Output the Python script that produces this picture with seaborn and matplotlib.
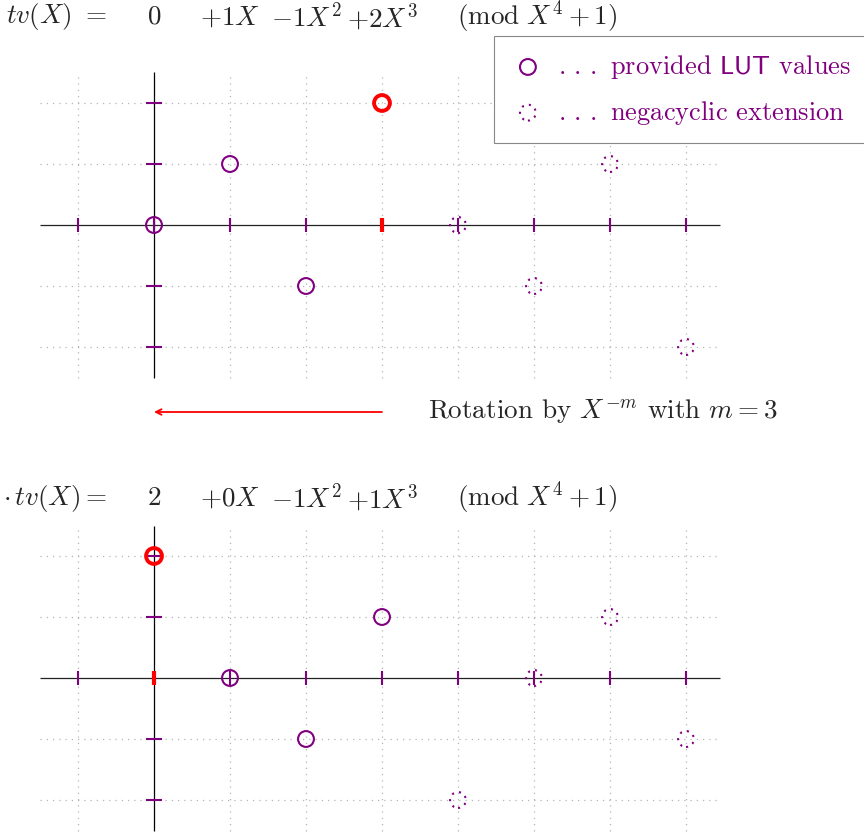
import matplotlib.pyplot as plt
import seaborn as sns

sns.set_style("white")
plt.rcParams['mathtext.fontset'] = 'cm'
plt.rcParams['font.family'] = 'serif'
plt.rcParams['font.serif'] = ['cmr10', 'DejaVu Serif']

PURPLE = "#800080"
RED = "#ff0000"
FS = 19.5

# polynomial data: coefficients of tv(X) and after rotation by X^-m
m = 3
powers = [0, 1, 2, 3]
ext_powers = [4, 5, 6, 7]
top_coeffs = [0, 1, -1, 2]
top_ext = [0, -1, 1, -2]
bot_coeffs = [2, 0, -1, 1]
bot_ext = [-2, 0, 1, -1]
top_terms = ["$0$", "$+1X$", "$-1X^2$", "$+2X^3$"]
bot_terms = ["$2$", "$+0X$", "$-1X^2$", "$+1X^3$"]
x_ticks = [-1, 0, 1, 2, 3, 4, 5, 6, 7]
y_ticks = [-2, -1, 1, 2]
grid_x = [-1, 1, 2, 3, 4, 5, 6, 7]
legend_labels = [r"$.\,.\,.$ provided $\mathsf{LUT}$ values$\quad$",
                 r"$.\,.\,.$ negacyclic extension"]

fig = plt.figure(figsize=(8.64, 8.34), dpi=100)
# each panel: x=0 at 154px, 76px per unit; y=0 at 225 / 678px, 61px per unit
xlim = (-154 / 76, (864 - 154) / 76)
ax_top = fig.add_axes([0, 1 - 450 / 834, 1, 450 / 834])
ax_bot = fig.add_axes([0, 0, 1, 384 / 834])


def draw_panel(ax, coeffs, ext, red_pos, terms, lhs, ylim, text_y, labels):
    ax.set_xlim(*xlim)
    ax.set_ylim(*ylim)
    ax.axis("off")
    # grid
    ax.hlines(y_ticks, -1.5, 7.45, colors="#b5b5b5", lw=0.9, linestyles=(0, (1, 4)), zorder=1)
    ax.vlines(grid_x, -2.5, 2.5, colors="#b5b5b5", lw=0.9, linestyles=(0, (1, 4)), zorder=1)
    # axes
    ax.hlines(0, -1.5, 7.45, colors="#222222", lw=0.9, zorder=2)
    ax.vlines(0, -2.5, 2.5, colors="black", lw=0.9, zorder=2)
    # ticks
    xt = [v for v in x_ticks if v != red_pos]
    ax.vlines(xt, -0.12, 0.12, colors=PURPLE, lw=1.5, zorder=3)
    ax.vlines(red_pos, -0.12, 0.12, colors=RED, lw=3, zorder=3)
    ax.hlines(y_ticks, -0.11, 0.11, colors=PURPLE, lw=1.5, zorder=3)
    # points
    sns.scatterplot(x=powers, y=coeffs, ax=ax, s=130, facecolor="none",
                    edgecolor=PURPLE, linewidth=1.5, zorder=4, label=labels[0])
    sns.scatterplot(x=ext_powers, y=ext, ax=ax, s=130, facecolor="none",
                    edgecolor=PURPLE, linewidth=1.5, linestyle=(0, (1, 2.5)),
                    zorder=4, label=labels[1])
    sns.scatterplot(x=[red_pos], y=[coeffs[red_pos]], ax=ax, s=130, facecolor="none",
                    edgecolor=RED, linewidth=2.8, zorder=5)
    # equation row
    ax.text(-0.62, text_y, lhs, ha="right", va="center", fontsize=FS)
    for p, t in zip(powers, terms):
        ax.text(p, text_y, t, ha="center", va="center", fontsize=FS)
    ax.text(5.04, text_y, r"$(\mathrm{mod}\ X^4+1)$", ha="center", va="center", fontsize=FS)


draw_panel(ax_top, top_coeffs, top_ext, m, top_terms, r"$tv(X)\ =$",
           (-(450 - 225) / 61, 225 / 61), (225 - 17) / 61, legend_labels)

draw_panel(ax_bot, bot_coeffs, bot_ext, 0, bot_terms, r"$\cdot\,tv(X) =$",
           (-(834 - 678) / 61, (678 - 450) / 61), (678 - 498) / 61, [None, None])
if ax_bot.get_legend() is not None:
    ax_bot.get_legend().remove()

# rotation arrow
ay = -(412 - 225) / 61
ax_top.annotate("", xy=(0, ay), xytext=(m, ay),
                arrowprops=dict(arrowstyle="->", color=RED, lw=1.3, shrinkA=0, shrinkB=0))
ax_top.text(3.6, ay, r"Rotation by $X^{-m}$ with $m = 3$", ha="left", va="center", fontsize=FS)

leg = ax_top.legend(loc="upper left", bbox_to_anchor=(494 / 864, 1 - 36 / 834),
                    bbox_transform=fig.transFigure, borderaxespad=0, fontsize=19,
                    labelcolor=PURPLE, frameon=True, fancybox=False, framealpha=1,
                    edgecolor="#888888", borderpad=0.64, labelspacing=0.67,
                    handlelength=1.29, handletextpad=0.5)
leg.get_frame().set_linewidth(0.8)

fig.savefig("out.png", dpi=100)
